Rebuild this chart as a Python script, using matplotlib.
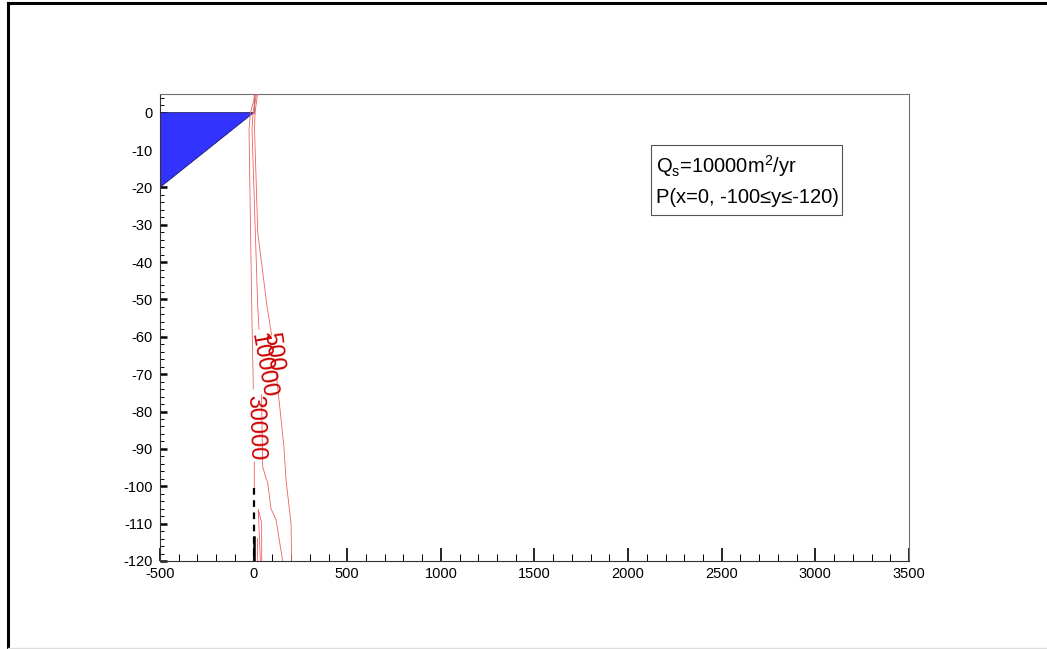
import numpy as np
import matplotlib
matplotlib.use('Agg')
import matplotlib.pyplot as plt
from matplotlib.lines import Line2D
from matplotlib.patches import Polygon, Rectangle
from matplotlib.ticker import MultipleLocator

plt.rcParams['font.family'] = ['Liberation Sans', 'DejaVu Sans']
plt.rcParams['mathtext.fontset'] = 'custom'
plt.rcParams['mathtext.rm'] = 'Liberation Sans'
plt.rcParams['mathtext.it'] = 'Liberation Sans'
plt.rcParams['axes.unicode_minus'] = False

nan = np.nan

# embankment (blue wedge) corners
wedge_x = [-500, 0, -500]
wedge_y = [0, 0, -20]

# traced concentration isolines, nan breaks the line where the label sits
c500_x = [21, 7.5, 5, 22, 72, 96, nan, 120, 162, 173, 200, 203]
c500_y = [5, 0, -4.6, -32, -52, -59.5, nan, -69.4, -89.5, -98.3, -110, -120]
c10000_x = [15.5, -3, -8.5, 22, 29, nan, 42, 48.6, 66, 75, 93, 120, 155]
c10000_y = [5, 0, -4.6, -52, -58, nan, -75.5, -94.8, -97.8, -99, -106, -109, -120]
c30000_x = [10, -16.5, -24.5, -10, -1.6, nan, 3.7, 3.7]
c30000_y = [5, 0, -4.6, -52, -74, nan, -93.5, -100.5]

# small closed isolines right beside the source
inner1_x = [36, 25, 43, 43]
inner1_y = [-120, -106.2, -109.8, -120]
inner2_x = [16, 16]
inner2_y = [-113.8, -120]

# isoline labels: text, x, y, angle
label_text = ['500', '10000', '30000']
label_x = [103, 50, 7]
label_y = [-64, -67.5, -84.4]
label_rot = [-82, -80, -88]

# source segment P(x=0, -100..-120)
src_x = [0, 0]
src_y = [-100.5, -120]

fig = plt.figure(figsize=(10.47, 6.49), dpi=100)
ax = fig.add_axes([0.1528, 0.1356, 0.7154, 0.7196])

ax.add_patch(Polygon(np.column_stack([wedge_x, wedge_y]), closed=True,
                     facecolor='#3333ff', edgecolor='#1a1a66', lw=0.6, zorder=2))
ax.plot([0, 0], [0, 5], color='#888888', lw=1.0, zorder=2)

line_kw = dict(color='#ee6060', lw=0.6, zorder=3)
ax.plot(c500_x, c500_y, **line_kw)
ax.plot(c10000_x, c10000_y, **line_kw)
ax.plot(c30000_x, c30000_y, **line_kw)
ax.plot(inner1_x, inner1_y, **line_kw)
ax.plot(inner2_x, inner2_y, **line_kw)

for t, x, y, r in zip(label_text, label_x, label_y, label_rot):
    ax.text(x, y, t, color='#cc0000', fontsize=17, rotation=r,
            rotation_mode='anchor', ha='center', va='center', zorder=4)

ax.plot(src_x, src_y, color='black', lw=1.6, dashes=(3, 2.5), zorder=4)
ax.plot([0, 0], [-113.5, -120], color='black', lw=1.8, zorder=4)

ax.set_xlim(-500, 3500)
ax.set_ylim(-120, 5)

ax.xaxis.set_major_locator(MultipleLocator(500))
ax.xaxis.set_minor_locator(MultipleLocator(100))
ax.yaxis.set_major_locator(MultipleLocator(10))
ax.yaxis.set_minor_locator(MultipleLocator(2))

ax.tick_params(axis='x', which='major', direction='in', length=9.4, width=1.2,
               labelsize=10.5, pad=4, top=False)
ax.tick_params(axis='x', which='minor', direction='in', length=5, width=0.7, top=False)
ax.tick_params(axis='y', which='major', direction='in', length=5, width=1.8,
               labelsize=10.5, pad=5, right=False)
ax.tick_params(axis='y', which='minor', direction='in', length=3, width=0.7, right=False)

for side in ['top', 'right']:
    ax.spines[side].set_color('#707070')
    ax.spines[side].set_linewidth(0.8)
for side in ['left', 'bottom']:
    ax.spines[side].set_color('#333333')
    ax.spines[side].set_linewidth(0.8)

# annotation box
ax.add_patch(Rectangle((0.6555, 0.741), 0.255, 0.15, transform=ax.transAxes,
                       facecolor='white', edgecolor='#555555', lw=0.8, zorder=5))
ax.text(0.662, 0.846, 'Q$_\\mathrm{s}$=10000m$^2$/yr', transform=ax.transAxes,
        fontsize=14.5, ha='left', va='center', zorder=6)
ax.text(0.662, 0.779, 'P(x=0, -100\u2264y\u2264-120)', transform=ax.transAxes,
        fontsize=14.5, ha='left', va='center', zorder=6)

# outer frame of the page
fig.add_artist(Line2D([0.0076, 1], [0.9954, 0.9954], transform=fig.transFigure,
                      color='black', lw=2.2))
fig.add_artist(Line2D([0.0076, 0.0076], [0, 0.9954], transform=fig.transFigure,
                      color='black', lw=2.2))
fig.add_artist(Line2D([0.0076, 1], [0.0023, 0.0023], transform=fig.transFigure,
                      color='#dddddd', lw=1.0))

fig.savefig('out.png', dpi=100)
